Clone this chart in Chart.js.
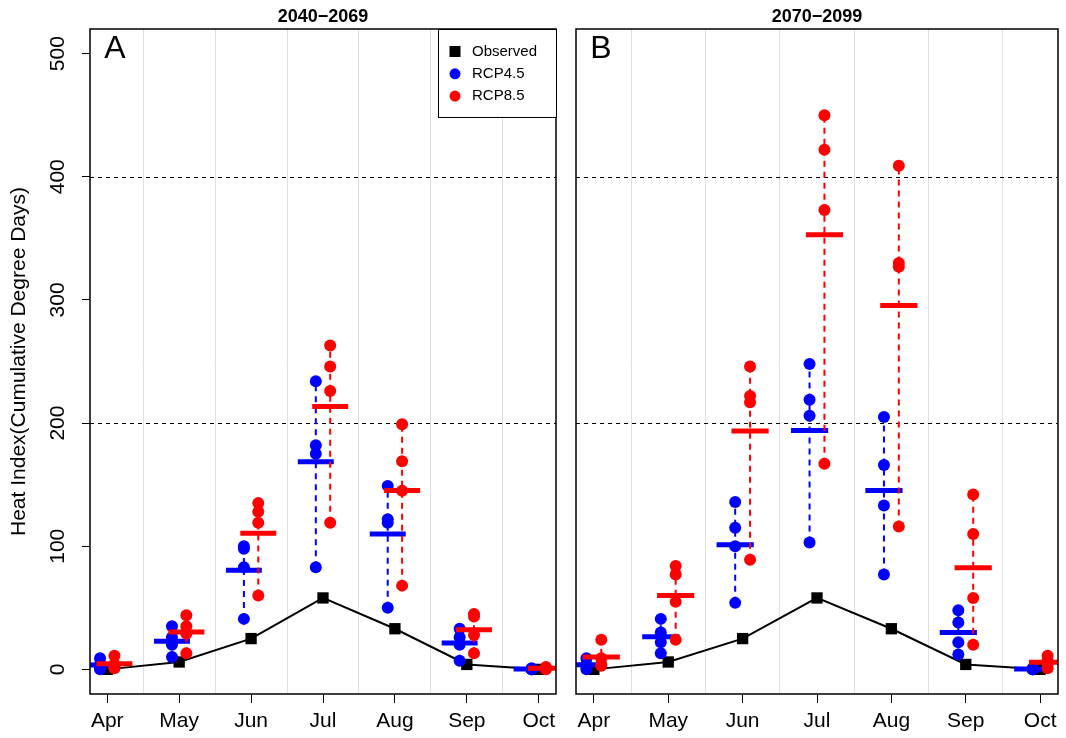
<!DOCTYPE html>
<html>
<head>
<meta charset="utf-8">
<title>Heat Index</title>
<script src="https://cdn.jsdelivr.net/npm/chart.js@4.4.0/dist/chart.umd.min.js"></script>
<style>
  body { margin: 0; background: #fff; }
  #wrap { position: relative; width: 1066px; height: 738px; }
  canvas { position: absolute; top: 0; }
</style>
</head>
<body>
<div id="wrap">
  <canvas id="panelA" width="566" height="738" style="left:0"></canvas>
  <canvas id="panelB" width="500" height="738" style="left:566px"></canvas>
</div>
<script>
// months and observed values (same in both panels)
const months = ['Apr', 'May', 'Jun', 'Jul', 'Aug', 'Sep', 'Oct'];
const observed = [0, 6, 25, 58, 33, 4, 0];

// four model values per month, 2040-2069
const rcp45_2040 = [
    [9, 4, 1, 0],
    [35, 26, 20, 10],
    [100, 98, 83, 41],
    [234, 182, 175, 83],
    [149, 122, 119, 50],
    [33, 26, 20, 7],
    [1, 0, 0, 0]
];
const rcp85_2040 = [
    [11, 4, 2, 1],
    [44, 35, 29, 13],
    [135, 128, 119, 60],
    [263, 246, 226, 119],
    [199, 169, 145, 68],
    [45, 43, 28, 13],
    [2, 1, 1, 0]
];

// 2070-2099
const rcp45_2070 = [
    [9, 4, 2, 0],
    [41, 30, 22, 13],
    [136, 115, 100, 54],
    [248, 219, 206, 103],
    [205, 166, 133, 77],
    [48, 38, 22, 12],
    [1, 0, 0, 0]
];
const rcp85_2070 = [
    [24, 9, 4, 3],
    [84, 77, 55, 24],
    [246, 222, 217, 89],
    [450, 422, 373, 167],
    [409, 330, 327, 116],
    [142, 110, 58, 20],
    [11, 7, 4, 1]
];

const yTicks = [0, 100, 200, 300, 400, 500];
const refLines = [200, 400];

const FONT = "'Liberation Sans', Arial, Helvetica, sans-serif";
const SHIFT = 0.1;     // blue left, red right of the month
const HALF_BAR = 0.25; // half width of the mean bars

Chart.defaults.font.family = FONT;
Chart.defaults.color = '#000';

function mean(arr) {
    return arr.reduce(function(a, b) { return a + b; }, 0) / arr.length;
}

// vertical min-max segments, separated by null gaps
function rangeData(vals, shift) {
    const out = [];
    vals.forEach(function(v, i) {
        out.push({x: i + shift, y: Math.min.apply(null, v)});
        out.push({x: i + shift, y: Math.max.apply(null, v)});
        out.push({x: i + shift, y: null});
    });
    return out;
}

function pointData(vals, shift) {
    const out = [];
    vals.forEach(function(v, i) {
        v.forEach(function(val) { out.push({x: i + shift, y: val}); });
    });
    return out;
}

function meanData(vals, shift) {
    const out = [];
    vals.forEach(function(v, i) {
        const m = mean(v);
        out.push({x: i + shift - HALF_BAR, y: m});
        out.push({x: i + shift + HALF_BAR, y: m});
        out.push({x: i + shift, y: null});
    });
    return out;
}

function scenarioSets(vals, shift, color, label, baseOrder) {
    return [
        {
            data: rangeData(vals, shift),
            borderColor: color, borderWidth: 2, borderDash: [6, 5],
            pointRadius: 0, spanGaps: false, order: baseOrder + 2
        },
        {
            label: label, legendMarker: 'circle',
            data: pointData(vals, shift),
            showLine: false, pointRadius: 6, pointBorderWidth: 0,
            pointBackgroundColor: color, borderColor: color, order: baseOrder + 1
        },
        {
            data: meanData(vals, shift),
            borderColor: color, borderWidth: 5, borderCapStyle: 'butt',
            pointRadius: 0, spanGaps: false, order: baseOrder
        }
    ];
}

// box, reference lines, panel letter, rotated y labels, legend
const panelDecor = {
    id: 'panelDecor',
    beforeDatasetsDraw: function(chart) {
        const a = chart.chartArea, y = chart.scales.y, ctx = chart.ctx;
        ctx.save();
        ctx.strokeStyle = '#000';
        ctx.lineWidth = 1;
        ctx.setLineDash([4, 4]);
        refLines.forEach(function(v) {
            const py = Math.round(y.getPixelForValue(v)) + 0.5;
            ctx.beginPath();
            ctx.moveTo(a.left, py);
            ctx.lineTo(a.right, py);
            ctx.stroke();
        });
        ctx.restore();
    },
    afterDraw: function(chart, args, opts) {
        const a = chart.chartArea, ctx = chart.ctx;
        ctx.save();
        ctx.strokeStyle = '#000';
        ctx.lineWidth = 1.5;
        ctx.strokeRect(a.left, a.top, a.right - a.left, a.bottom - a.top);

        ctx.fillStyle = '#000';
        ctx.font = '32px ' + FONT;
        ctx.textAlign = 'center';
        ctx.textBaseline = 'middle';
        ctx.fillText(opts.letter, a.left + 25, a.top + 20);

        if (opts.yLabels) {
            const y = chart.scales.y;
            ctx.font = '21px ' + FONT;
            yTicks.forEach(function(v) {
                ctx.save();
                ctx.translate(58, y.getPixelForValue(v));
                ctx.rotate(-Math.PI / 2);
                ctx.fillText(String(v), 0, 0);
                ctx.restore();
            });
        }

        if (opts.legend) {
            const w = 118, h = 88;
            const left = a.right - w, top = a.top;
            ctx.fillStyle = '#fff';
            ctx.fillRect(left, top, w, h);
            ctx.lineWidth = 1;
            ctx.strokeRect(left + 0.5, top + 0.5, w, h);
            ctx.font = '15px ' + FONT;
            ctx.textAlign = 'left';
            chart.data.datasets.filter(function(ds) { return ds.legendMarker; }).forEach(function(ds, k) {
                const cy = top + 22.5 + k * 22.3, cx = left + 17;
                ctx.fillStyle = ds.pointBackgroundColor;
                if (ds.legendMarker === 'rect') {
                    ctx.fillRect(cx - 5.5, cy - 5.5, 11, 11);
                } else {
                    ctx.beginPath();
                    ctx.arc(cx, cy, 5.5, 0, Math.PI * 2);
                    ctx.fill();
                }
                ctx.fillStyle = '#000';
                ctx.fillText(ds.label, left + 34, cy);
            });
        }
        ctx.restore();
    }
};

function makePanel(canvasId, title, letter, r45, r85, first) {
    const xTickVals = [];
    months.forEach(function(m, i) {
        xTickVals.push(i);
        if (i < months.length - 1) xTickVals.push(i + 0.5);
    });

    const datasets = [{
        label: 'Observed', legendMarker: 'rect',
        data: months.map(function(m, i) { return {x: i, y: observed[i]}; }),
        borderColor: '#000', borderWidth: 2,
        pointStyle: 'rect', pointRadius: 8, pointBorderWidth: 0,
        pointBackgroundColor: '#000', order: 20
    }].concat(
        scenarioSets(r45, -SHIFT, '#0000FF', 'RCP4.5', 10),
        scenarioSets(r85, SHIFT, '#FF0000', 'RCP8.5', 0)
    );

    return new Chart(document.getElementById(canvasId), {
        type: 'line',
        data: {datasets: datasets},
        options: {
            responsive: false,
            animation: false,
            devicePixelRatio: 1,
            events: [],
            layout: {padding: first ? {left: 0, right: 10} : {left: 10, right: 4}},
            scales: {
                x: {
                    type: 'linear',
                    min: -0.24,
                    max: months.length - 1 + 0.24,
                    afterBuildTicks: function(scale) {
                        scale.ticks = xTickVals.map(function(v) { return {value: v}; });
                    },
                    afterFit: function(scale) { scale.height = 44; },
                    border: {display: false},
                    grid: {
                        drawOnChartArea: true,
                        color: function(ctx) {
                            return ctx.tick && !Number.isInteger(ctx.tick.value) ? '#e0e0e0' : 'rgba(0,0,0,0)';
                        },
                        tickColor: function(ctx) {
                            return ctx.tick && Number.isInteger(ctx.tick.value) ? '#000' : 'rgba(0,0,0,0)';
                        },
                        tickLength: 9,
                        lineWidth: 1
                    },
                    ticks: {
                        autoSkip: false,
                        maxRotation: 0,
                        minRotation: 0,
                        padding: 6,
                        font: {size: 21},
                        callback: function(value) {
                            return Number.isInteger(value) ? months[value] : '';
                        }
                    }
                },
                y: {
                    display: first,
                    min: -20,
                    max: 520,
                    afterBuildTicks: function(scale) {
                        scale.ticks = yTicks.map(function(v) { return {value: v}; });
                    },
                    afterFit: function(scale) { scale.width = first ? 90 : 0; },
                    border: {display: false},
                    grid: {drawOnChartArea: false, tickLength: 8, tickColor: '#000'},
                    ticks: {display: false},
                    title: {
                        display: true,
                        text: 'Heat Index(Cumulative Degree Days)',
                        font: {size: 21},
                        padding: {top: 7, bottom: 0}
                    }
                }
            },
            plugins: {
                legend: {display: false},
                tooltip: {enabled: false},
                title: {
                    display: true,
                    text: title,
                    fullSize: false,
                    font: {size: 18, weight: 'bold'},
                    padding: {top: 6, bottom: 1.4}
                },
                panelDecor: {letter: letter, legend: first, yLabels: first}
            }
        },
        plugins: [panelDecor]
    });
}

makePanel('panelA', '2040\u22122069', 'A', rcp45_2040, rcp85_2040, true);
makePanel('panelB', '2070\u22122099', 'B', rcp45_2070, rcp85_2070, false);
</script>
</body>
</html>
